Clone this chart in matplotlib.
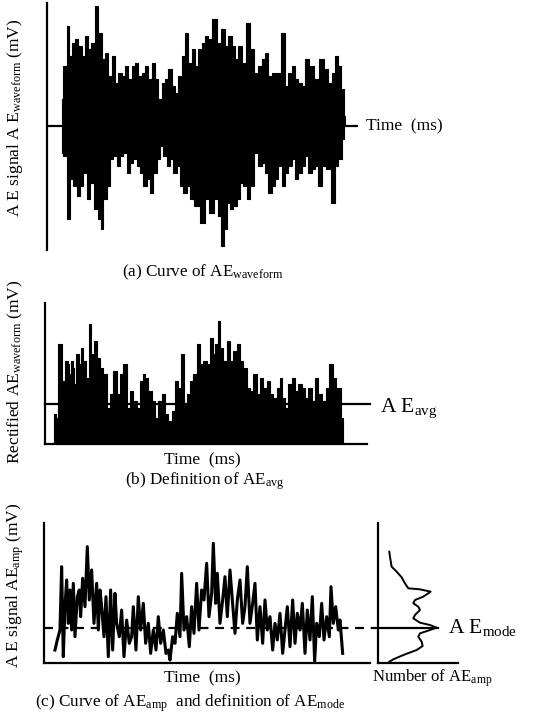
import matplotlib
matplotlib.use("Agg")
import matplotlib.pyplot as plt

plt.rcParams['font.family'] = ['Liberation Serif', 'DejaVu Serif']
plt.rcParams['mathtext.fontset'] = 'custom'
plt.rcParams['mathtext.rm'] = 'Liberation Serif'
plt.rcParams['mathtext.it'] = 'Liberation Serif:italic'
plt.rcParams['mathtext.bf'] = 'Liberation Serif:bold'

# ---------------- data (arbitrary units) ----------------
# (a) raw waveform: upper and lower envelopes
wave_t_up = [18.5, 19.5, 20.5, 21.0, 22.0, 23.0, 24.0, 25.0, 25.8, 26.8, 28.0, 29.0,
             30.0, 31.0, 32.0, 33.0, 34.0, 35.0, 36.0, 37.0, 38.0, 39.0, 40.0, 41.0,
             42.0, 43.0, 44.0, 45.0, 46.0, 47.0, 48.0, 49.0, 50.0, 51.0, 52.0, 53.0,
             54.0, 55.0, 56.0, 57.0, 58.0, 59.0, 60.0, 61.0, 62.0, 63.0, 64.5, 65.5,
             67.0, 68.0, 69.0, 70.0, 71.0, 72.0, 73.0, 74.5, 75.5, 77.0, 78.0, 79.0,
             80.0, 81.0, 82.0, 83.5, 85.0, 86.0, 87.0, 88.0, 89.0, 90.0, 91.0, 92.0,
             93.5, 95.0, 96.5, 98.0, 99.0, 100.0, 101.0, 102.0, 102.8, 103.5]
wave_up = [8, 18, 30, 21, 25, 26, 24, 21, 27, 23, 25, 36,
           28, 20, 22, 15, 21, 13, 16, 15, 18, 14, 18, 19,
           15, 16, 18, 14, 19, 14, 8, 13, 14, 17, 12, 10,
           15, 21, 28, 19, 23, 18, 23, 25, 27, 26, 32, 25,
           29, 24, 27, 24, 20, 24, 19, 31, 23, 16, 18, 20,
           22, 15, 16, 16, 28, 12, 16, 18, 14, 13, 12, 20,
           18, 14, 20, 17, 13, 16, 21, 18, 11, 3]
wave_t_lo = [18.5, 19.5, 20.5, 21.5, 22.5, 23.5, 24.5, 25.5, 26.5, 27.5, 29.0, 30.0,
             30.5, 31.5, 32.5, 33.5, 34.5, 35.5, 36.5, 37.5, 38.5, 39.5, 40.5, 41.5,
             42.5, 43.5, 44.5, 45.5, 46.5, 47.5, 48.5, 49.5, 50.5, 51.5, 52.5, 53.5,
             54.5, 55.5, 56.5, 57.5, 59.0, 61.0, 62.0, 63.5, 65.0, 66.0, 66.8, 67.5,
             68.5, 69.5, 70.5, 71.5, 72.5, 73.5, 74.5, 75.5, 77.0, 78.0, 79.0, 80.0,
             81.0, 82.0, 83.0, 84.0, 85.0, 86.0, 87.0, 88.0, 89.0, 90.0, 91.0, 92.0,
             93.0, 94.0, 95.0, 96.0, 97.0, 98.5, 100.0, 101.0, 102.0, 103.0, 103.5]
wave_lo = [-8, -9, -28, -16, -18, -21, -18, -14, -22, -17, -25, -28,
           -31, -22, -18, -10, -9, -12, -9, -8, -14, -11, -10, -12,
           -14, -18, -16, -20, -14, -10, -6, -9, -12, -10, -14, -12,
           -18, -20, -18, -22, -24, -29, -22, -26, -22, -27, -36, -31,
           -23, -25, -24, -22, -17, -18, -22, -18, -8, -12, -11, -14,
           -20, -18, -16, -12, -18, -14, -12, -10, -16, -14, -12, -9,
           -14, -13, -12, -18, -12, -13, -23, -12, -10, -4, 0]

# (b) rectified waveform: upper envelope
rect_t = [16.3, 17.0, 18.0, 19.0, 20.0, 20.5, 21.0, 21.5, 22.0, 22.5, 23.2, 24.0,
          24.5, 25.5, 26.2, 27.0, 27.8, 28.8, 29.5, 30.5, 31.5, 32.5, 33.5, 34.5,
          35.5, 36.5, 37.5, 38.5, 39.5, 40.5, 41.5, 42.5, 43.2, 44.0, 45.0, 46.0,
          47.0, 48.0, 49.0, 50.0, 51.0, 52.0, 53.0, 54.0, 54.8, 55.5, 56.5, 57.5,
          58.5, 59.7, 60.5, 61.5, 62.5, 63.3, 64.2, 65.0, 65.7, 66.5, 67.5, 68.5,
          69.5, 70.5, 71.5, 72.5, 73.5, 74.5, 75.5, 76.5, 77.5, 78.5, 79.5, 80.5,
          81.5, 82.5, 83.5, 84.3, 85.0, 86.0, 87.0, 88.0, 89.0, 90.0, 91.0, 92.0,
          93.0, 94.0, 95.0, 96.0, 97.0, 98.3, 99.3, 100.3, 101.5, 102.0, 102.8]
rect_up = [9, 8, 30, 19, 25, 24, 21, 25, 23, 18, 27, 24,
           29, 25, 20, 36, 27, 31, 26, 23, 21, 11, 15, 22,
           15, 21, 24, 11, 16, 13, 11, 19, 21, 20, 16, 13,
           8, 13, 15, 9, 7, 10, 19, 17, 27, 12, 15, 19,
           21, 30, 24, 25, 24, 32, 27, 30, 37, 29, 25, 31,
           25, 28, 30, 25, 23, 17, 16, 21, 15, 20, 17, 19,
           15, 14, 17, 20, 14, 11, 18, 20, 16, 18, 17, 14,
           17, 13, 20, 15, 13, 17, 24, 20, 17, 17, 8]
ae_avg = 12.1

# (c) amplitude trace
amp_t = [16.5, 17.2, 18.0, 18.5, 19.0, 19.5, 20.0, 20.5, 21.0, 21.5, 22.0, 22.5,
         23.2, 23.8, 24.2, 24.8, 25.5, 26.2, 26.8, 27.5, 28.2, 29.0, 29.5, 30.0,
         30.5, 31.2, 31.8, 32.5, 33.2, 33.8, 34.5, 35.0, 35.8, 36.5, 37.2, 38.0,
         38.8, 39.5, 40.0, 40.8, 41.5, 42.2, 43.0, 43.7, 44.5, 45.2, 46.0, 46.8,
         47.5, 48.2, 49.0, 49.8, 50.5, 51.0, 51.8, 52.5, 53.2, 54.0, 54.5, 55.2,
         56.0, 56.8, 57.5, 58.2, 59.0, 59.7, 60.5, 61.2, 62.0, 62.7, 63.5, 64.0,
         64.7, 65.2, 66.0, 66.8, 67.5, 68.2, 69.0, 69.7, 70.5, 71.2, 72.0, 72.8,
         73.5, 74.2, 75.0, 75.8, 76.5, 77.2, 78.0, 78.8, 79.5, 80.2, 81.0, 81.8,
         82.5, 83.2, 84.0, 84.8, 85.5, 86.2, 87.0, 87.8, 88.5, 89.2, 90.0, 90.7,
         91.5, 92.2, 93.0, 93.7, 94.4, 95.0, 95.8, 96.5, 97.2, 98.0, 98.8, 99.3,
         100.0, 100.7, 101.5, 102.0, 102.8]
amp_v = [3.8, 6.8, 9.8, 28.8, 1.8, 16.8, 24.8, 11.8, 21.8, 9.8, 23.8, 7.8,
         19.8, 21.8, 13.8, 25.3, 16.8, 34.8, 18.8, 27.8, 11.8, 23.8, 9.8, 21.8,
         16.8, 7.8, 19.8, 1.8, 21.8, 3.8, 20.8, 11.8, 7.8, 15.8, 1.8, 12.8,
         5.8, 7.8, 16.8, 3.8, 19.8, 9.8, 17.8, 5.8, 11.8, 2.8, 9.8, 3.8,
         13.8, 5.8, 9.8, 2.8, 3.8, 0.8, 7.8, 5.8, 14.8, 7.8, 26.8, 9.8,
         13.8, 4.8, 16.8, 8.8, 23.8, 9.8, 21.8, 18.8, 29.8, 13.8, 20.8, 35.8,
         17.8, 26.8, 11.8, 18.8, 25.8, 13.8, 27.8, 18.8, 8.8, 18.8, 24.8, 11.8,
         16.8, 28.8, 11.8, 17.8, 23.8, 6.8, 16.8, 5.8, 18.8, 9.8, 13.8, 3.8,
         11.8, 6.8, 14.8, 2.8, 9.8, 16.8, 4.8, 18.8, 5.8, 14.8, 9.8, 17.8,
         2.8, 15.8, 6.8, 19.8, 0.3, 11.8, 7.8, 17.8, 6.8, 13.8, 7.8, 22.8,
         11.8, 16.8, 9.8, 12.8, 2.8]
ae_mode = 10.5

# (c) histogram of amplitudes (count, amplitude)
hist_count = [3.3, 3.5, 4.0, 5.5, 7.0, 8.0, 9.0, 12.5, 15.7, 13.5, 11.0, 10.5, 12.0,
              12.5, 11.0, 10.5, 12.5, 15.5, 17.5, 15.5, 12.5, 12.0, 13.0, 13.3, 11.5,
              7.5, 4.5, 3.3]
hist_amp = [33.3, 31.8, 28.8, 27.3, 25.6, 23.8, 22.3, 22.0, 21.3, 19.8, 18.8, 17.8, 16.8,
            15.8, 14.3, 13.3, 12.0, 11.3, 10.5, 9.8, 8.8, 7.8, 6.3, 5.0, 3.8,
            2.3, 1.0, 0.3]

# ---------------- figure ----------------
W, H = 553, 715
fig = plt.figure(figsize=(W / 100, H / 100), dpi=100)


def rect(x0, y0, x1, y1):
    return [x0 / W, 1 - y1 / H, (x1 - x0) / W, (y1 - y0) / H]


def clean(ax, left=True, bottom=True):
    for s in ['top', 'right']:
        ax.spines[s].set_visible(False)
    ax.spines['left'].set_visible(left)
    ax.spines['bottom'].set_visible(bottom)
    for s in ['left', 'bottom']:
        ax.spines[s].set_linewidth(1.6)
    ax.set_xticks([])
    ax.set_yticks([])
    ax.patch.set_alpha(0)


FS = 12.5
CFS = 12.3

# (a)
axa = fig.add_axes(rect(46.7, 3.3, 358.3, 250))
clean(axa, bottom=False)
axa.set_xlim(14.0, 107.5)
axa.set_ylim(-37.2, 36.8)
axa.axhline(0, color='black', lw=1.6)
axa.fill_between(wave_t_up, 0, wave_up, step='mid', color='black', lw=0.8)
axa.fill_between(wave_t_lo, wave_lo, 0, step='mid', color='black', lw=0.8)
fig.text(366 / W, 1 - 126 / H, 'Time  (ms)', fontsize=FS, ha='left', va='center')
fig.text(15 / W, 1 - 118 / H, r'A E signal A E$_{\mathrm{waveform}}$ (mV)', fontsize=FS,
         rotation=90, ha='center', va='center')
fig.text(203 / W, 1 - 272 / H, r'(a) Curve of AE$_{\mathrm{waveform}}$', fontsize=CFS,
         ha='center', va='center')

# (b)
axb = fig.add_axes(rect(45, 303.3, 366.7, 444.3))
clean(axb)
axb.set_xlim(13.5, 110)
axb.set_ylim(0, 42.3)
axb.fill_between(rect_t, 0, rect_up, step='mid', color='black', lw=0.8)
axb.plot([13.5, 111.0], [ae_avg, ae_avg], color='black', lw=1.6, clip_on=False)
fig.text(380 / W, 1 - 408 / H, r'A E$_{\mathrm{avg}}$', fontsize=FS + 3, ha='left', va='center')
fig.text(202 / W, 1 - 460 / H, 'Time  (ms)', fontsize=FS, ha='center', va='center')
fig.text(15 / W, 1 - 372 / H, r'Rectified AE$_{\mathrm{waveform}}$ (mV)', fontsize=FS,
         rotation=90, ha='center', va='center')
fig.text(205 / W, 1 - 481 / H, r'(b) Definition of AE$_{\mathrm{avg}}$', fontsize=CFS,
         ha='center', va='center')

# (c) left
axc = fig.add_axes(rect(44.3, 523.3, 370, 662.7))
clean(axc)
axc.set_xlim(13.3, 111)
axc.set_ylim(0, 41.8)
axc.plot(amp_t, amp_v, color='black', lw=2.2)
axc.plot([13.3, 113.5], [ae_mode, ae_mode], color='black', lw=1.6, ls=(0, (4, 3)),
         clip_on=False)
fig.text(202 / W, 1 - 678 / H, 'Time  (ms)', fontsize=FS, ha='center', va='center')
fig.text(15 / W, 1 - 585 / H, r'A E signal AE$_{\mathrm{amp}}$ (mV)', fontsize=FS,
         rotation=90, ha='center', va='center')
fig.text(35 / W, 1 - 703 / H,
         r'(c) Curve of AE$_{\mathrm{amp}}$  and definition of AE$_{\mathrm{mode}}$',
         fontsize=CFS, ha='left', va='center')

# (c) right: histogram
axh = fig.add_axes(rect(378.3, 523.3, 458.3, 662.7))
clean(axh)
axh.set_xlim(0, 24)
axh.set_ylim(0, 41.8)
axh.plot(hist_count, hist_amp, color='black', lw=1.4)
axh.plot([0, 18], [ae_mode, ae_mode], color='black', lw=1.6)
fig.text(448 / W, 1 - 628 / H, r'A E$_{\mathrm{mode}}$', fontsize=FS + 3, ha='left', va='center')
fig.text(432 / W, 1 - 678 / H, r'Number of AE$_{\mathrm{amp}}$', fontsize=FS - 0.5,
         ha='center', va='center')

fig.savefig('out.png', dpi=100)
